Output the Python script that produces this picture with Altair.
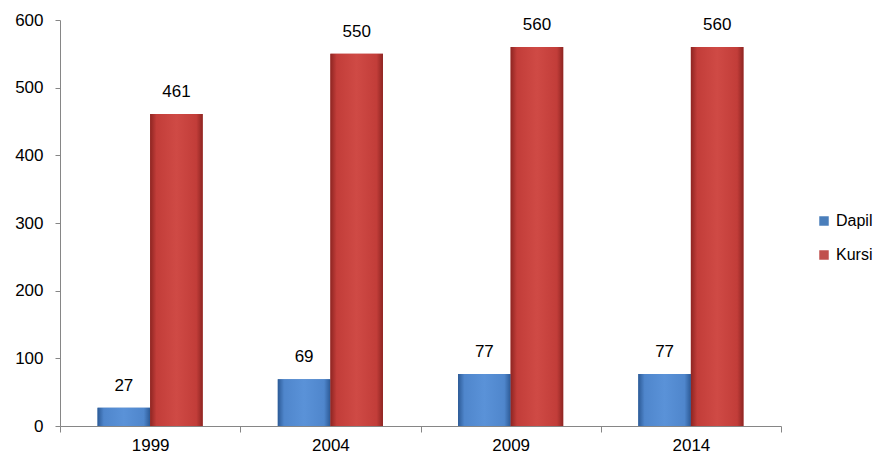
import altair as alt
import pandas as pd

years = ["1999", "2004", "2009", "2014"]
dapil = [27, 69, 77, 77]
kursi = [461, 550, 560, 560]
series = ["Dapil", "Kursi"]
flat_colors = ["#4a7ebb", "#c0504d"]

rows = []
for i, y in enumerate(years):
    rows.append({"year": y, "series": "Dapil", "value": dapil[i]})
    rows.append({"year": y, "series": "Kursi", "value": kursi[i]})
df = pd.DataFrame(rows)

FONT = "Liberation Sans"
FS = 17

blue_grad = alt.LinearGradient(
    gradient="linear", x1=0, y1=0, x2=1, y2=0,
    stops=[alt.GradientStop(color="#2c5a96", offset=0),
           alt.GradientStop(color="#4f86cc", offset=0.12),
           alt.GradientStop(color="#5a92d8", offset=0.5),
           alt.GradientStop(color="#4f86cc", offset=0.88),
           alt.GradientStop(color="#2c5a96", offset=1)])
red_grad = alt.LinearGradient(
    gradient="linear", x1=0, y1=0, x2=1, y2=0,
    stops=[alt.GradientStop(color="#8e2522", offset=0),
           alt.GradientStop(color="#c23d39", offset=0.12),
           alt.GradientStop(color="#cf4a45", offset=0.5),
           alt.GradientStop(color="#c23d39", offset=0.88),
           alt.GradientStop(color="#8e2522", offset=1)])

x_enc = alt.X("year:N", sort=years,
              scale=alt.Scale(paddingInner=0, paddingOuter=0),
              axis=alt.Axis(title=None, labelAngle=0, tickBand="extent",
                            labelPadding=5, tickSize=6, labelFontSize=FS,
                            labelFont=FONT, labelColor="#000000",
                            domainColor="#868686", tickColor="#868686",
                            grid=False))
xo_enc = alt.XOffset("series:N", sort=series,
                     scale=alt.Scale(paddingInner=0, paddingOuter=0.714))
y_enc = alt.Y("value:Q", scale=alt.Scale(domain=[0, 600], nice=False),
              axis=alt.Axis(title=None, values=[0, 100, 200, 300, 400, 500, 600],
                            tickSize=5, labelPadding=12, labelFontSize=FS,
                            labelFont=FONT, labelColor="#000000",
                            domainColor="#868686", tickColor="#868686",
                            grid=False))

base = alt.Chart(df)

legend_bars = base.mark_bar().encode(
    x=x_enc, xOffset=xo_enc, y=y_enc,
    color=alt.Color("series:N", sort=series,
                    scale=alt.Scale(domain=series, range=flat_colors),
                    legend=alt.Legend(title=None, orient="none", legendX=756, legendY=193,
                                      symbolType="square", symbolSize=90,
                                      symbolStrokeWidth=0,
                                      labelFontSize=16, labelFont=FONT,
                                      labelColor="#000000", rowPadding=18,
                                      labelOffset=4)))

grad_bars = base.mark_bar().encode(
    x=x_enc, xOffset=xo_enc, y=y_enc,
    color=alt.condition(alt.datum.series == "Dapil",
                        alt.value(blue_grad), alt.value(red_grad)))

labels = base.mark_text(dy=-22, fontSize=FS, font=FONT, color="#000000").encode(
    x=x_enc, xOffset=xo_enc, y=y_enc, text=alt.Text("value:Q"))

chart = alt.layer(legend_bars, grad_bars, labels).properties(
    width=721, height=406,
    background="#ffffff",
    autosize=alt.AutoSizeParams(type="none"),
    padding={"left": 52, "top": 12, "right": 92, "bottom": 30},
).configure_view(stroke=None)

chart.save("out.html", embed_options={"renderer": "svg", "actions": False})
